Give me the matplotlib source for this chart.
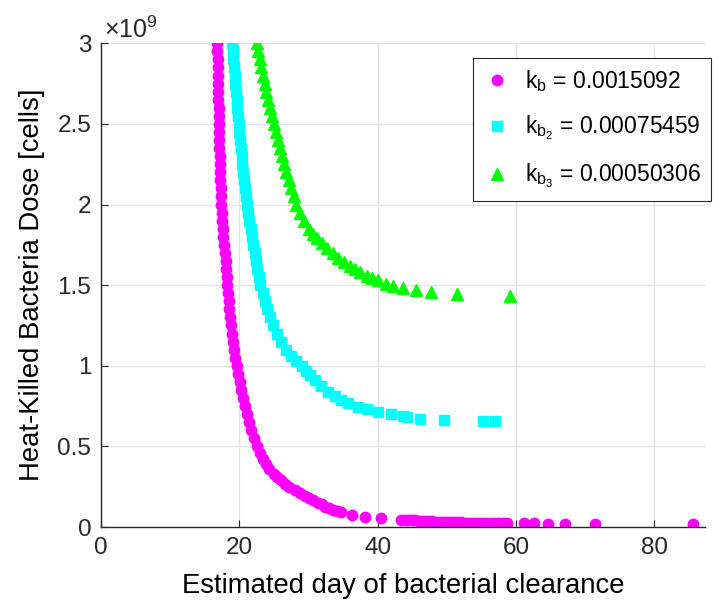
import matplotlib
matplotlib.use('Agg')
import matplotlib.pyplot as plt

plt.rcParams['font.family'] = ['Liberation Sans', 'DejaVu Sans']
plt.rcParams['mathtext.fontset'] = 'custom'
plt.rcParams['mathtext.rm'] = 'Liberation Sans'
plt.rcParams['mathtext.default'] = 'regular'

# dose in units of 1e9 cells, day of clearance
dose_kb1 = [3.00, 2.95, 2.90, 2.85, 2.80, 2.75, 2.70, 2.65, 2.60, 2.55,
            2.50, 2.45, 2.40, 2.35, 2.30, 2.25, 2.20, 2.15, 2.10, 2.05,
            2.00, 1.95, 1.90, 1.85, 1.80, 1.75, 1.70, 1.65, 1.60, 1.55,
            1.50, 1.45, 1.40, 1.35, 1.30, 1.25, 1.20, 1.15, 1.10, 1.05,
            1.00, 0.95, 0.90, 0.85, 0.80, 0.75, 0.70, 0.65, 0.60, 0.55,
            0.50, 0.46, 0.42, 0.39, 0.36, 0.33, 0.31, 0.29, 0.27, 0.25,
            0.23, 0.21, 0.195, 0.18, 0.165, 0.15, 0.14, 0.126, 0.117, 0.108,
            0.10, 0.091, 0.074, 0.064, 0.054,
            0.043, 0.042, 0.042, 0.041, 0.041, 0.040, 0.040, 0.039, 0.039, 0.038,
            0.031, 0.030, 0.030, 0.030, 0.029, 0.029, 0.029, 0.028, 0.028, 0.028,
            0.028, 0.027, 0.027, 0.027, 0.027, 0.027, 0.027, 0.027,
            0.027, 0.027, 0.020, 0.020, 0.020, 0.020]
day_kb1 = [16.80, 16.82, 16.85, 16.87, 16.90, 16.92, 16.95, 16.97, 17.00, 17.02,
           17.05, 17.07, 17.10, 17.12, 17.15, 17.18, 17.22, 17.27, 17.32, 17.36,
           17.40, 17.47, 17.54, 17.62, 17.70, 17.80, 17.90, 18.00, 18.08, 18.16,
           18.25, 18.35, 18.45, 18.55, 18.65, 18.77, 18.90, 19.05, 19.20, 19.40,
           19.65, 19.85, 20.05, 20.25, 20.50, 20.80, 21.10, 21.35, 21.70, 22.10,
           22.55, 23.00, 23.40, 23.80, 24.30, 24.95, 25.50, 26.00, 26.60, 27.20,
           28.00, 28.80, 29.50, 30.10, 30.70, 31.30, 31.90, 32.40, 33.00, 33.60,
           34.10, 34.75, 36.30, 38.10, 40.50,
           43.40, 43.90, 44.40, 44.90, 45.40, 45.90, 46.40, 46.90, 47.40, 47.90,
           48.50, 49.10, 49.70, 50.30, 50.90, 51.50, 52.10, 52.70, 53.30, 53.90,
           54.50, 55.10, 55.70, 56.30, 56.90, 57.50, 58.10, 58.70,
           61.10, 62.60, 64.60, 67.10, 71.40, 85.60]

dose_kb2 = [3.00, 2.95, 2.90, 2.85, 2.80, 2.75, 2.70, 2.65, 2.60, 2.55,
            2.50, 2.45, 2.40, 2.35, 2.30, 2.25, 2.20, 2.15, 2.10, 2.05,
            2.00, 1.95, 1.90, 1.85, 1.80, 1.75, 1.70, 1.65, 1.60, 1.55,
            1.50, 1.45, 1.40, 1.35, 1.30, 1.25, 1.20, 1.15, 1.10, 1.06,
            1.03, 1.00, 0.97, 0.94, 0.91, 0.875, 0.84, 0.81, 0.79, 0.77,
            0.746, 0.73, 0.715,
            0.700, 0.689, 0.681, 0.671, 0.663, 0.656, 0.656]
day_kb2 = [19.00, 19.07, 19.14, 19.22, 19.30, 19.40, 19.50, 19.60, 19.70, 19.80,
           19.90, 20.00, 20.10, 20.20, 20.32, 20.44, 20.56, 20.68, 20.82, 20.96,
           21.10, 21.26, 21.44, 21.62, 21.80, 22.00, 22.20, 22.40, 22.60, 22.80,
           23.05, 23.35, 23.65, 24.00, 24.40, 24.85, 25.40, 26.00, 26.70, 27.50,
           28.20, 29.00, 29.60, 30.20, 30.90, 31.80, 32.80, 33.80, 34.70, 35.70,
           37.10, 38.40, 40.00,
           41.90, 43.60, 44.30, 46.10, 49.60, 55.20, 57.00]

dose_kb3 = [3.00, 2.95, 2.90, 2.85, 2.80, 2.75, 2.70, 2.65, 2.60, 2.55,
            2.50, 2.45, 2.40, 2.35, 2.30, 2.25, 2.20, 2.15, 2.10, 2.05,
            2.00, 1.95, 1.90, 1.85, 1.82, 1.79, 1.76, 1.73, 1.70, 1.67,
            1.645, 1.62, 1.60, 1.58, 1.56, 1.545, 1.53,
            1.507, 1.492, 1.481, 1.470, 1.455, 1.443, 1.430]
day_kb3 = [22.55, 22.75, 22.95, 23.15, 23.40, 23.65, 23.90, 24.15, 24.40, 24.65,
           24.95, 25.25, 25.55, 25.85, 26.15, 26.45, 26.80, 27.15, 27.50, 27.85,
           28.25, 28.75, 29.30, 30.00, 30.60, 31.20, 31.90, 32.70, 33.50, 34.30,
           35.10, 36.00, 36.70, 37.50, 38.40, 39.20, 40.00,
           41.20, 42.15, 43.70, 45.50, 47.70, 51.50, 59.10]

labels = [r'$k_b$ = 0.0015092', r'$k_{b_2}$ = 0.00075459', r'$k_{b_3}$ = 0.00050306']

dark = '#262626'

fig = plt.figure(figsize=(7.19, 6.10), dpi=100)
ax = fig.add_axes([0.1405, 0.136, 0.840, 0.793])

ax.plot(day_kb1, dose_kb1, 'o', color='#ff00ff', markersize=7.5, linestyle='none', label=labels[0])
ax.plot(day_kb2, dose_kb2, 's', color='#00ffff', markersize=6.5, linestyle='none', label=labels[1])
ax.plot(day_kb3, dose_kb3, '^', color='#00ff00', markersize=8, linestyle='none', label=labels[2])

ax.set_xlim(0, 87.3)
ax.set_ylim(0, 3)
ax.set_xticks([0, 20, 40, 60, 80])
ax.set_yticks([0, 0.5, 1, 1.5, 2, 2.5, 3])
ax.set_yticklabels(['0', '0.5', '1', '1.5', '2', '2.5', '3'])
ax.grid(True, color='#e3e3e3', linewidth=1.0)
ax.set_axisbelow(True)
for s in ['top', 'right']:
    ax.spines[s].set_visible(False)
for s in ['left', 'bottom']:
    ax.spines[s].set_color(dark)
    ax.spines[s].set_linewidth(1.0)
ax.tick_params(direction='in', length=5, colors=dark, labelsize=17.5, pad=7)

ax.set_xlabel('Estimated day of bacterial clearance', fontsize=19.8, color='black', labelpad=10)
ax.set_ylabel('Heat-Killed Bacteria Dose [cells]', fontsize=19.8, color='black', labelpad=9)
ax.text(0.005, 1.0, r'$\times10^{9}$', transform=ax.transAxes, fontsize=18,
        color=dark, ha='left', va='bottom')

leg = ax.legend(loc='upper right', bbox_to_anchor=(711 / 719, 1 - 58 / 610),
                bbox_transform=fig.transFigure, fontsize=16.5, fancybox=False,
                framealpha=1, edgecolor=dark, borderpad=0.45, labelspacing=0.85,
                handletextpad=0.6, handlelength=1.2, borderaxespad=0)
leg.get_frame().set_linewidth(0.8)

fig.savefig('out.png', dpi=100)
